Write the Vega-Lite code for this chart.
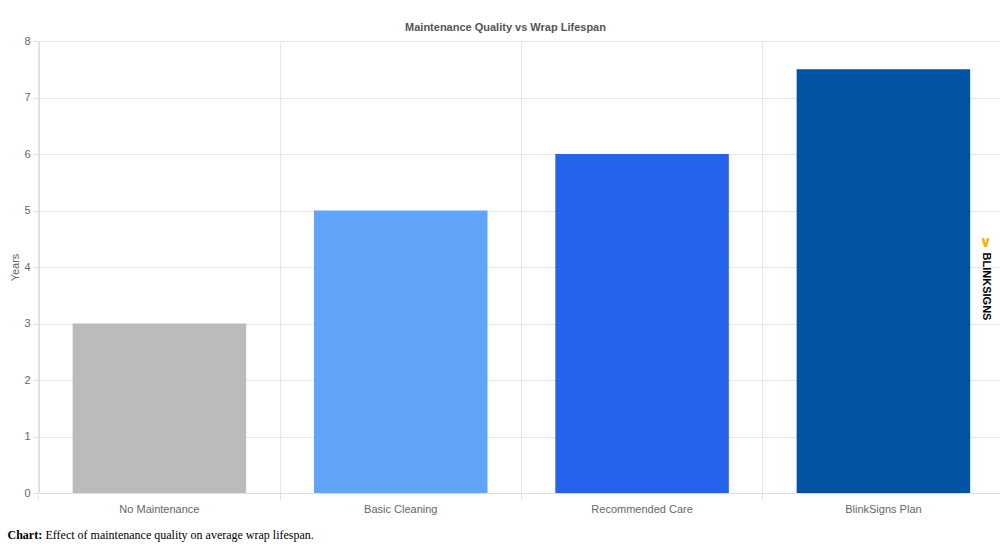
{
  "$schema": "https://vega.github.io/schema/vega-lite/v6.json",
  "autosize": {"type": "none"},
  "padding": {"left": 39, "top": 41, "right": 0, "bottom": 60},
  "width": 961,
  "height": 452,
  "background": "white",
  "title": {
    "text": "Maintenance Quality vs Wrap Lifespan",
    "font": "Liberation Sans",
    "fontSize": 11,
    "fontWeight": "bold",
    "color": "#555555",
    "anchor": "middle",
    "dx": -14,
    "offset": 2
  },
  "data": {
    "values": [
      {"level": "No Maintenance", "years": 3},
      {"level": "Basic Cleaning", "years": 5},
      {"level": "Recommended Care", "years": 6},
      {"level": "BlinkSigns Plan", "years": 7.5}
    ]
  },
  "config": {
    "view": {"stroke": null},
    "axis": {
      "labelFont": "Liberation Sans",
      "titleFont": "Liberation Sans",
      "labelColor": "#666666",
      "titleColor": "#666666",
      "labelFontSize": 11,
      "titleFontSize": 11,
      "titleFontWeight": "normal",
      "gridColor": "#e6e6e6",
      "domainColor": "#dddddd",
      "tickColor": "#e0e0e0"
    }
  },
  "resolve": {"axis": {"x": "independent", "y": "independent"}},
  "layer": [
    {
      "mark": {"type": "bar"},
      "encoding": {
        "x": {
          "field": "level",
          "type": "nominal",
          "sort": null,
          "scale": {"paddingInner": 0.281, "paddingOuter": 0.1315, "align": 0.53},
          "axis": {
            "orient": "bottom",
            "labelAngle": 0,
            "grid": false,
            "ticks": false,
            "tickSize": 6,
            "labelPadding": 10,
            "title": "Effect of maintenance quality on average wrap lifespan.",
            "titleFont": "Liberation Serif",
            "titleFontSize": 12,
            "titleColor": "#000000",
            "titleAnchor": "start",
            "titleAlign": "left",
            "titleBaseline": "alphabetic",
            "titleX": 6,
            "titleY": 45
          }
        },
        "y": {
          "field": "years",
          "type": "quantitative",
          "scale": {"domain": [0, 8], "nice": false},
          "axis": {
            "orient": "left",
            "values": [0, 1, 2, 3, 4, 5, 6, 7, 8],
            "grid": true,
            "tickSize": 6,
            "labelPadding": 3,
            "title": "Years",
            "titleX": -24,
            "titleY": 226,
            "titleAngle": -90,
            "titleAlign": "center",
            "titleBaseline": "middle"
          }
        },
        "color": {
          "field": "level",
          "type": "nominal",
          "scale": {
            "domain": ["No Maintenance", "Basic Cleaning", "Recommended Care", "BlinkSigns Plan"],
            "range": ["#bbbbbb", "#60a5fa", "#2563eb", "#0353a4"]
          },
          "legend": null
        }
      }
    },
    {
      "mark": {"type": "bar", "opacity": 0},
      "encoding": {
        "x": {
          "field": "level",
          "type": "nominal",
          "sort": null,
          "axis": {
            "orient": "bottom",
            "labels": false,
            "ticks": true,
            "tickSize": 6,
            "domain": true,
            "grid": true,
            "bandPosition": -0.1954,
            "title": "Chart:",
            "titleFont": "Liberation Serif",
            "titleFontSize": 12,
            "titleFontWeight": "bold",
            "titleColor": "#000000",
            "titleAnchor": "start",
            "titleAlign": "left",
            "titleBaseline": "alphabetic",
            "titleX": -32,
            "titleY": 45
          }
        },
        "y": {
          "field": "years",
          "type": "quantitative",
          "axis": {
            "orient": "right",
            "labels": false,
            "ticks": false,
            "tickSize": 0,
            "domain": false,
            "grid": false,
            "title": "BLINKSIGNS",
            "titleFont": "Liberation Sans",
            "titleFontSize": 11,
            "titleFontWeight": "bold",
            "titleColor": "#000000",
            "titleAngle": 90,
            "titleAlign": "center",
            "titleBaseline": "middle",
            "titleX": -15,
            "titleY": 245
          }
        }
      }
    },
    {
      "mark": {"type": "bar", "opacity": 0},
      "encoding": {
        "x": {
          "field": "level",
          "type": "nominal",
          "sort": null,
          "axis": {
            "orient": "top",
            "labels": false,
            "ticks": false,
            "tickSize": 0,
            "domain": false,
            "grid": false,
            "title": "∨",
            "titleFont": "DejaVu Sans",
            "titleFontSize": 15,
            "titleFontWeight": "bold",
            "titleColor": "#f5b301",
            "titleAngle": 0,
            "titleAlign": "center",
            "titleBaseline": "middle",
            "titleX": 946,
            "titleY": 200
          }
        },
        "y": {
          "field": "years",
          "type": "quantitative",
          "axis": null
        }
      }
    }
  ]
}
